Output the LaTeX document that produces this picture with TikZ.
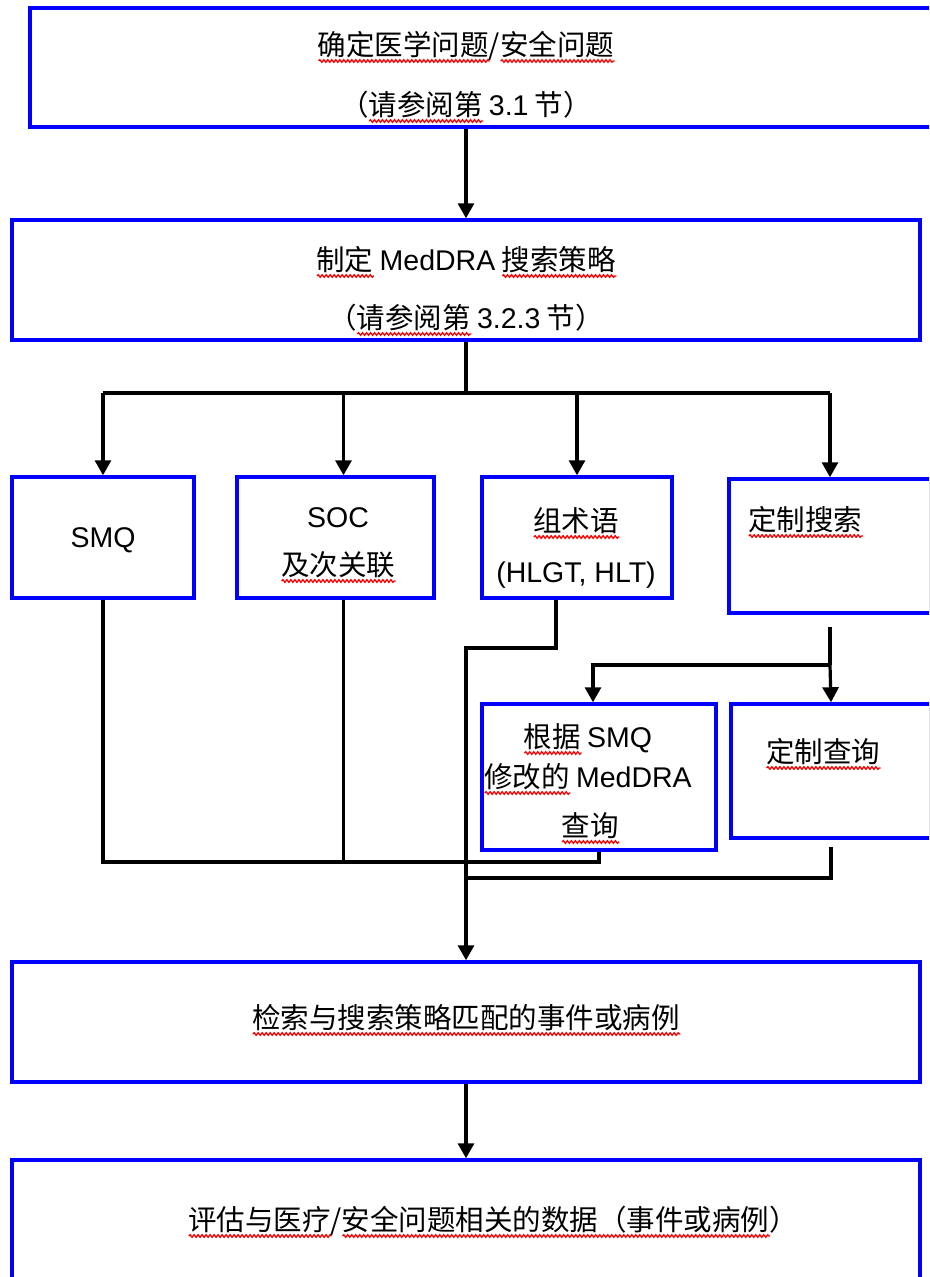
\documentclass[tikz,border=0pt]{standalone}
\usepackage{fontspec}
\setmainfont{Liberation Sans}
\newfontfamily\cjk{Noto Sans CJK SC}
\usetikzlibrary{arrows.meta,decorations.pathmorphing}
\newsavebox\sqbox
\newlength\sqlen
\newcommand\sq[1]{\sbox\sqbox{#1}\setlength\sqlen{\wd\sqbox}\rlap{\tikz[baseline=0pt]\draw[red,line width=1.3pt,decorate,decoration={snake,amplitude=1.3pt,segment length=4pt}] (0pt,-6pt) -- (\sqlen,-6pt);}\usebox\sqbox}
\newcommand\lt[1]{{\rmfamily #1}}
\begin{document}
\begin{tikzpicture}[x=1pt,y=-1pt,
  box/.style={draw=blue, line width=3.5pt, rectangle, inner sep=0pt},
  txt/.style={font=\cjk\fontsize{28.5}{34}\selectfont, inner sep=0pt, anchor=base},
  ln/.style={line width=3.2pt, black},
  arr/.style={ln, -{Triangle[length=15pt,width=16pt]}}]
\clip (0,0) rectangle (929,1277);
\useasboundingbox (0,0) rectangle (929,1277);
\fill[white] (0,0) rectangle (929,1277);
% boxes
\node[box, minimum width=905pt, minimum height=119pt] (b1) at (482.5,67.5) {};
\node[box, minimum width=908pt, minimum height=120pt] (b2) at (466,280) {};
\node[box, minimum width=182pt, minimum height=121pt] (smq) at (103,537.5) {};
\node[box, minimum width=197pt, minimum height=121pt] (soc) at (335.5,537.5) {};
\node[box, minimum width=190pt, minimum height=121pt] (grp) at (577,537.5) {};
\node[box, minimum width=202pt, minimum height=134pt] (cust) at (830,546) {};
\node[box, minimum width=234pt, minimum height=146pt] (rsmq) at (599,777) {};
\node[box, minimum width=200pt, minimum height=134pt] (cq) at (831,771) {};
\node[box, minimum width=908pt, minimum height=120pt] (b5) at (466,1022) {};
\node[box, minimum width=908pt, minimum height=130pt] (b6) at (466,1225) {};
% texts
\node[txt] (t1a) at (466,55) {\sq{确定医学问题}/\sq{安全问题}};
\node[txt] (t1b) at (466,115) {（\sq{请参阅第} \lt{3.1} 节）};
\node[txt] (t2a) at (466,270) {\sq{制定} \lt{MedDRA} \sq{搜索策略}};
\node[txt] (t2b) at (466,328) {（\sq{请参阅第} \lt{3.2.3} 节）};
\node[txt] (t3) at (103,547) {\lt{SMQ}};
\node[txt] (t4a) at (338,527) {\lt{SOC}};
\node[txt] (t4b) at (338,575) {\sq{及次关联}};
\node[txt] (t5a) at (576,531) {\sq{组术语}};
\node[txt] (t5b) at (576,582) {\lt{(HLGT, HLT)}};
\node[txt, anchor=base west] (t6) at (748,530) {\sq{定制搜索}};
\node[txt] (t7a) at (588,747) {\sq{根据} \lt{SMQ}};
\node[txt] (t7b) at (588,787) {\sq{修改的} \lt{MedDRA}};
\node[txt] (t7c) at (590,836) {\sq{查询}};
\node[txt] (t8) at (823,762) {\sq{定制查询}};
\node[txt] (t9) at (466,1028) {\sq{检索与搜索策略匹配的事件或病例}};
\node[txt, anchor=base west] (t10) at (188,1230) {\sq{评估与医疗}/\sq{安全问题相关的数据（事件或病例}）};
% coordinates
\coordinate (br) at (466,393);
\coordinate (k) at (466,648);
\coordinate (m) at (830,665);
\coordinate (j1) at (466,862);
\coordinate (j2) at (466,878);
\coordinate (socn) at ([xshift=8pt]soc.north);
\coordinate (socs) at ([xshift=8pt]soc.south);
\coordinate (grps) at ([xshift=-21pt]grp.south);
\coordinate (rsmqn) at ([xshift=-6pt]rsmq.north);
\coordinate (custs) at ([yshift=-12pt]cust.south);
\coordinate (cqs) at ([yshift=-7pt]cq.south);
% connectors
\draw[arr] (b1.south -| b2.north) -- (b2.north);
\draw[ln] (b2.south) -- (br);
\draw[ln] (br -| smq.north) -- (br -| cust.north);
\draw[arr] (br -| smq.north) -- (smq.north);
\draw[arr] (socn |- br) -- (socn);
\draw[arr] (br -| grp.north) -- (grp.north);
\draw[arr] (br -| cust.north) -- (cust.north);
\draw[ln] (smq.south) |- (j1) -| (rsmq.south);
\draw[ln] (socs) -- (socs |- j1);
\draw[arr] (grps) |- (k) -- (b5.north);
\draw[ln] (custs) -- (m);
\draw[arr] (m) -| (rsmqn);
\draw[arr] (m) -- (cq.north);
\draw[ln] (cqs) |- (j2);
\draw[arr] (b5.south) -- (b6.north);
\end{tikzpicture}
\end{document}
